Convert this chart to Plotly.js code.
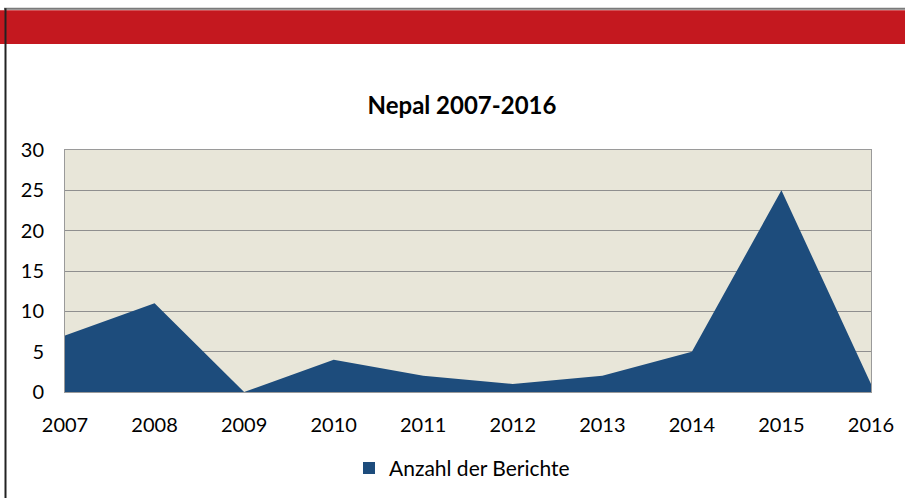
<!DOCTYPE html>
<html>
<head>
<meta charset="utf-8">
<script src="https://cdn.plot.ly/plotly-3.0.1.min.js"></script>
<style>
html,body{margin:0;padding:0;background:#fff;}
#chart{width:905px;height:501px;}
</style>
</head>
<body>
<div id="chart"></div>
<script>
const years = [2007, 2008, 2009, 2010, 2011, 2012, 2013, 2014, 2015, 2016];
const reports = [7, 11, 0, 4, 2, 1, 2, 5, 25, 1];
const seriesName = "Anzahl der Berichte";
const chartTitle = "Nepal 2007-2016";
const yTicks = [0, 5, 10, 15, 20, 25, 30];

const fillColor = "#1D4C7C";
const font = "Lato, 'Open Sans', sans-serif";

// plot area geometry (px) used only to place decorations
const W = 905, H = 501, L = 65, R = 34, T = 150, B = 107;
const pw = W - L - R, ph = H - T - B;
const px = x => (x - L) / pw;
const py = y => (H - B - y) / ph;

const traces = [
  {
    type: "scatter",
    mode: "lines",
    x: years,
    y: reports,
    fill: "tozeroy",
    fillcolor: fillColor,
    line: {width: 0, color: fillColor},
    showlegend: false,
    hoverinfo: "x+y"
  },
  {
    type: "bar",
    x: [years[0]],
    y: [0],
    name: seriesName,
    marker: {color: fillColor, line: {width: 0}},
    showlegend: true,
    hoverinfo: "skip"
  }
];

const layout = {
  width: W,
  height: H,
  margin: {l: L, r: R, t: T, b: B, pad: 0},
  paper_bgcolor: "#ffffff",
  plot_bgcolor: "#E8E6D9",
  font: {family: font, size: 20, color: "#000"},
  title: {
    text: "<b>" + chartTitle + "</b>",
    font: {family: font, size: 24, color: "#000"},
    xref: "paper",
    x: px(462),
    xanchor: "center",
    yref: "container",
    y: 1 - 106 / H,
    yanchor: "middle"
  },
  xaxis: {
    type: "linear",
    range: [years[0], years[years.length - 1]],
    tickvals: years,
    ticktext: years.map(String),
    showgrid: false,
    zeroline: false,
    showline: true,
    linecolor: "#9a9a9a",
    linewidth: 1,
    mirror: true,
    ticks: "outside",
    ticklen: 15,
    tickcolor: "rgba(0,0,0,0)",
    tickfont: {family: font, size: 20, color: "#000"},
    fixedrange: true
  },
  yaxis: {
    range: [0, 30],
    tickvals: yTicks,
    showgrid: true,
    gridcolor: "#8f8f8f",
    gridwidth: 1,
    zeroline: false,
    showline: true,
    linecolor: "#9a9a9a",
    linewidth: 1,
    mirror: true,
    ticks: "outside",
    ticklen: 16,
    tickcolor: "rgba(0,0,0,0)",
    tickfont: {family: font, size: 20, color: "#000"},
    fixedrange: true
  },
  legend: {
    orientation: "h",
    x: px(462),
    xanchor: "center",
    y: py(471),
    yanchor: "middle",
    font: {family: font, size: 21, color: "#000"},
    bgcolor: "rgba(0,0,0,0)",
    itemwidth: 30
  },
  shapes: [
    {type: "rect", xref: "paper", yref: "paper", layer: "below",
     x0: px(0), x1: px(905), y0: py(43), y1: py(9),
     fillcolor: "#C4181F", line: {width: 0}},
    {type: "line", xref: "paper", yref: "paper",
     x0: px(4), x1: px(905), y0: py(7.5), y1: py(7.5),
     line: {color: "#7a7a7a", width: 2}},
    {type: "line", xref: "paper", yref: "paper",
     x0: px(5.5), x1: px(5.5), y0: py(7), y1: py(501),
     line: {color: "#222222", width: 2}}
  ],
  showlegend: true
};

Plotly.newPlot("chart", traces, layout, {displayModeBar: false, staticPlot: true});
</script>
</body>
</html>
